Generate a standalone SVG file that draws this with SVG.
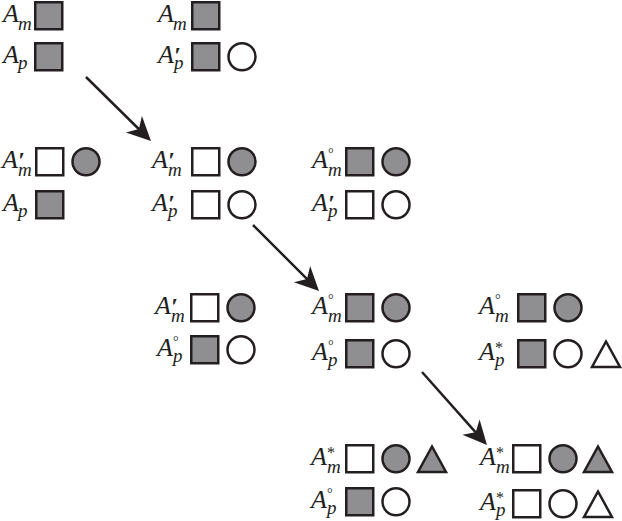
<svg xmlns="http://www.w3.org/2000/svg" width="622" height="521" viewBox="0 0 622 521">
<style>
.sq,.ci,.tr{stroke:#231f20;stroke-width:2.5;stroke-linejoin:miter}
.g{fill:#8f8f91}
.w{fill:#ffffff}
text{font-family:"Liberation Serif","Times New Roman",serif;fill:#231f20}
.A{font-size:26px;font-style:italic}
.sb{font-size:19px;font-style:italic}
.pr{font-size:24px;font-style:italic;font-weight:bold}
.dg{font-size:14px}
.st{font-size:16px}
.arr{stroke:#231f20;stroke-width:2.5;fill:none;marker-end:url(#head)}
</style>
<defs>
<marker id="head" markerUnits="userSpaceOnUse" orient="auto" overflow="visible" refX="0" refY="0" markerWidth="1" markerHeight="1">
<path d="M15,0 L-9,-11.5 L-2,0 L-9,11.5 Z" fill="#231f20"/>
</marker>
</defs>
<rect width="622" height="521" fill="#ffffff"/>

<g id="connectors">
<line class="arr" x1="86" y1="77" x2="140.3" y2="130.5"/>
<line class="arr" x1="253" y1="225" x2="308.4" y2="280.4"/>
<line class="arr" x1="422" y1="372" x2="477" y2="433.8"/>
</g>

<g id="n1">
<text x="3" y="22"><tspan class="A">A</tspan><tspan class="sb" x="18" y="30">m</tspan></text>
<rect class="sq g" x="35.25" y="2.25" width="27" height="27"/>
<text x="3" y="63"><tspan class="A">A</tspan><tspan class="sb" x="18" y="69">p</tspan></text>
<rect class="sq g" x="35.25" y="43.25" width="27" height="27"/>
</g>

<g id="n2">
<text x="158" y="22"><tspan class="A">A</tspan><tspan class="sb" x="173" y="30">m</tspan></text>
<rect class="sq g" x="192.25" y="2.25" width="27" height="27"/>
<text x="158" y="63"><tspan class="A">A</tspan><tspan class="pr" x="174" y="63">′</tspan><tspan class="sb" x="174" y="69">p</tspan></text>
<rect class="sq g" x="192.25" y="43.25" width="27" height="27"/>
<circle class="ci w" cx="242" cy="56.75" r="13.5"/>
</g>

<g id="n3">
<text x="2" y="168"><tspan class="A">A</tspan><tspan class="pr" x="18" y="168">′</tspan><tspan class="sb" x="18" y="176">m</tspan></text>
<rect class="sq w" x="36.25" y="148.25" width="27" height="27"/>
<circle class="ci g" cx="86" cy="161.75" r="13.5"/>
<text x="3" y="211"><tspan class="A">A</tspan><tspan class="sb" x="18" y="217">p</tspan></text>
<rect class="sq g" x="36.25" y="191.25" width="27" height="27"/>
</g>

<g id="n4">
<text x="152" y="168"><tspan class="A">A</tspan><tspan class="pr" x="168" y="168">′</tspan><tspan class="sb" x="168" y="176">m</tspan></text>
<rect class="sq w" x="192.25" y="148.25" width="27" height="27"/>
<circle class="ci g" cx="242" cy="161.75" r="13.5"/>
<text x="152" y="211"><tspan class="A">A</tspan><tspan class="pr" x="168" y="211">′</tspan><tspan class="sb" x="168" y="217">p</tspan></text>
<rect class="sq w" x="192.25" y="191.25" width="27" height="27"/>
<circle class="ci w" cx="242" cy="204.75" r="13.5"/>
</g>

<g id="n5">
<text x="312" y="168"><tspan class="A">A</tspan><tspan class="dg" x="328" y="158">°</tspan><tspan class="sb" x="328" y="176">m</tspan></text>
<rect class="sq g" x="346.25" y="148.25" width="27" height="27"/>
<circle class="ci g" cx="396" cy="161.75" r="13.5"/>
<text x="312" y="211"><tspan class="A">A</tspan><tspan class="pr" x="328" y="211">′</tspan><tspan class="sb" x="328" y="217">p</tspan></text>
<rect class="sq w" x="346.25" y="191.25" width="27" height="27"/>
<circle class="ci w" cx="396" cy="204.75" r="13.5"/>
</g>

<g id="n6">
<text x="155" y="314"><tspan class="A">A</tspan><tspan class="pr" x="171" y="314">′</tspan><tspan class="sb" x="171" y="322">m</tspan></text>
<rect class="sq w" x="191.25" y="294.25" width="27" height="27"/>
<circle class="ci g" cx="241" cy="307.75" r="13.5"/>
<text x="157" y="356"><tspan class="A">A</tspan><tspan class="dg" x="173" y="346">°</tspan><tspan class="sb" x="173" y="362">p</tspan></text>
<rect class="sq g" x="191.25" y="336.25" width="27" height="27"/>
<circle class="ci w" cx="241" cy="349.75" r="13.5"/>
</g>

<g id="n7">
<text x="312" y="314"><tspan class="A">A</tspan><tspan class="dg" x="328" y="304">°</tspan><tspan class="sb" x="328" y="322">m</tspan></text>
<rect class="sq g" x="346.25" y="294.25" width="27" height="27"/>
<circle class="ci g" cx="396" cy="307.75" r="13.5"/>
<text x="312" y="360"><tspan class="A">A</tspan><tspan class="dg" x="328" y="350">°</tspan><tspan class="sb" x="328" y="366">p</tspan></text>
<rect class="sq g" x="346.25" y="340.25" width="27" height="27"/>
<circle class="ci w" cx="396" cy="353.75" r="13.5"/>
</g>

<g id="n8">
<text x="479" y="314"><tspan class="A">A</tspan><tspan class="dg" x="495" y="304">°</tspan><tspan class="sb" x="495" y="322">m</tspan></text>
<rect class="sq g" x="518.25" y="294.25" width="27" height="27"/>
<circle class="ci g" cx="568" cy="307.75" r="13.5"/>
<text x="479" y="360"><tspan class="A">A</tspan><tspan class="st" x="495" y="353">*</tspan><tspan class="sb" x="495" y="366">p</tspan></text>
<rect class="sq g" x="518.25" y="340.25" width="27" height="27"/>
<circle class="ci w" cx="568" cy="353.75" r="13.5"/>
<polygon class="tr w" points="606,341.5 592,367 620,367"/>
</g>

<g id="n9">
<text x="311" y="465"><tspan class="A">A</tspan><tspan class="st" x="327" y="458">*</tspan><tspan class="sb" x="327" y="473">m</tspan></text>
<rect class="sq w" x="346.25" y="445.25" width="27" height="27"/>
<circle class="ci g" cx="396" cy="458.75" r="13.5"/>
<polygon class="tr g" points="432,446.5 418,472 446,472"/>
<text x="311" y="508"><tspan class="A">A</tspan><tspan class="dg" x="327" y="498">°</tspan><tspan class="sb" x="327" y="514">p</tspan></text>
<rect class="sq g" x="346.25" y="488.25" width="27" height="27"/>
<circle class="ci w" cx="396" cy="501.75" r="13.5"/>
</g>

<g id="n10">
<text x="480" y="465"><tspan class="A">A</tspan><tspan class="st" x="496" y="458">*</tspan><tspan class="sb" x="496" y="473">m</tspan></text>
<rect class="sq w" x="513.25" y="445.25" width="27" height="27"/>
<circle class="ci g" cx="563" cy="458.75" r="13.5"/>
<polygon class="tr g" points="598,446.5 584,472 612,472"/>
<text x="480" y="510"><tspan class="A">A</tspan><tspan class="st" x="496" y="503">*</tspan><tspan class="sb" x="496" y="516">p</tspan></text>
<rect class="sq w" x="513.25" y="490.25" width="27" height="27"/>
<circle class="ci w" cx="563" cy="503.75" r="13.5"/>
<polygon class="tr w" points="598,491.5 584,517 612,517"/>
</g>
</svg>
